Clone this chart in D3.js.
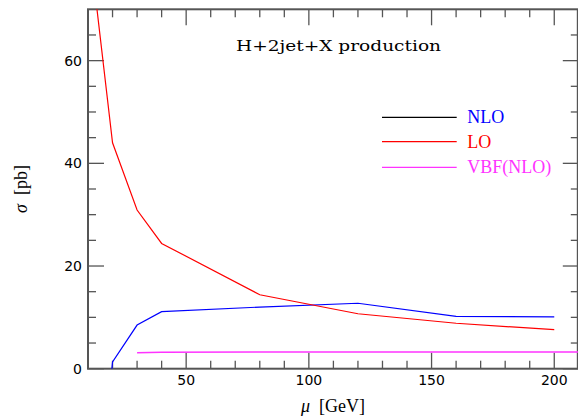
<!DOCTYPE html>
<html>
<head>
<meta charset="utf-8">
<script src="https://cdn.jsdelivr.net/npm/d3@7"></script>
<style>
  body { margin: 0; background: #fff; }
  svg { display: block; }
</style>
</head>
<body>
<svg id="chart" width="578" height="416"></svg>
<script>
// Data
var muLO = [10, 20, 30, 40, 80, 120, 160, 200];
var sigmaLO = [85, 44, 30.9, 24.4, 14.4, 10.7, 8.85, 7.6];

var muNLO = [10, 20, 30, 40, 80, 120, 160, 200];
var sigmaNLO = [-45, 1.3, 8.5, 11.1, 12.0, 12.75, 10.2, 10.1];

var muVBF = [30, 40, 80, 120, 160, 200, 250];
var sigmaVBF = [3.1, 3.2, 3.25, 3.25, 3.25, 3.25, 3.25];

var xMajor = [50, 100, 150, 200];
var yMajor = [0, 20, 40, 60];

var legendNames = ["NLO", "LO", "VBF(NLO)"];
var legendColors = ["#0000ff", "#ff0000", "#ff33ff"];

var svg = d3.select("#chart");

var x = d3.scaleLinear().domain([10, 210]).range([88, 578.8]);
var y = d3.scaleLinear().domain([0, 70]).range([368.7, 9.3]);

var axisColor = "#555";

// clip area for the curves
svg.append("clipPath").attr("id", "clip")
  .append("rect")
  .attr("x", x(10)).attr("y", y(70))
  .attr("width", x(210) - x(10)).attr("height", y(0) - y(70));

// minor / major ticks, drawn inside the frame on all four sides
var xMinor = d3.range(20, 210, 10);
var yMinor = d3.range(5, 70, 5);
var g = svg.append("g").attr("stroke", axisColor).attr("stroke-width", 1.3);

xMinor.forEach(function(v) {
  var len = xMajor.indexOf(v) >= 0 ? 16 : 8;
  g.append("line").attr("x1", x(v)).attr("x2", x(v)).attr("y1", y(0)).attr("y2", y(0) - len);
  g.append("line").attr("x1", x(v)).attr("x2", x(v)).attr("y1", y(70)).attr("y2", y(70) + len);
});
yMinor.concat([0]).forEach(function(v) {
  var len = yMajor.indexOf(v) >= 0 ? 16 : 8;
  g.append("line").attr("x1", x(10)).attr("x2", x(10) + len).attr("y1", y(v)).attr("y2", y(v));
  g.append("line").attr("x1", x(210)).attr("x2", x(210) - len).attr("y1", y(v)).attr("y2", y(v));
});

// frame
svg.append("rect")
  .attr("x", x(10)).attr("y", y(70))
  .attr("width", x(210) - x(10) - 1).attr("height", y(0) - y(70))
  .attr("fill", "none")
  .attr("stroke", axisColor)
  .attr("stroke-width", 2);

// tick labels
svg.append("g").selectAll("text")
  .data(yMajor)
  .enter().append("text")
  .attr("x", 82)
  .attr("y", function(d) { return y(d) + 5; })
  .attr("text-anchor", "end")
  .style("font-family", "DejaVu Sans")
  .style("font-size", "14px")
  .text(function(d) { return d; });

svg.append("g").selectAll("text")
  .data(xMajor)
  .enter().append("text")
  .attr("x", function(d) { return x(d); })
  .attr("y", 384.5)
  .attr("text-anchor", "middle")
  .style("font-family", "DejaVu Sans")
  .style("font-size", "14px")
  .text(function(d) { return d; });

// curves
var line = d3.line()
  .x(function(d) { return x(d[0]); })
  .y(function(d) { return y(d[1]); });

var curves = svg.append("g").attr("clip-path", "url(#clip)").attr("fill", "none");
curves.append("path")
  .attr("d", line(d3.zip(muNLO, sigmaNLO)))
  .attr("stroke", legendColors[0]).attr("stroke-width", 1.2);
curves.append("path")
  .attr("d", line(d3.zip(muLO, sigmaLO)))
  .attr("stroke", legendColors[1]).attr("stroke-width", 1.2);
curves.append("path")
  .attr("d", line(d3.zip(muVBF, sigmaVBF)))
  .attr("stroke", legendColors[2]).attr("stroke-width", 1.6);

// legend
var leg = svg.append("g").selectAll("g")
  .data(legendNames)
  .enter().append("g")
  .attr("transform", function(d, i) { return "translate(0," + [117.3, 141.7, 167.3][i] + ")"; });
leg.append("line")
  .attr("x1", 382).attr("x2", 456.7)
  .attr("stroke", function(d, i) { return i == 0 ? "#000" : legendColors[i]; })
  .attr("stroke-width", 1.2);
leg.append("text")
  .attr("x", 467.3).attr("y", 6)
  .attr("fill", function(d, i) { return legendColors[i]; })
  .style("font-family", "Liberation Serif")
  .style("font-size", "18px")
  .text(function(d) { return d; });

// title
svg.append("text")
  .attr("x", 236).attr("y", 50.5)
  .attr("textLength", 205).attr("lengthAdjust", "spacingAndGlyphs")
  .style("font-family", "DejaVu Serif")
  .style("font-size", "15px")
  .text("H+2jet+X production");

// axis titles
var xt = svg.append("text")
  .attr("x", 333).attr("y", 412)
  .attr("text-anchor", "middle")
  .style("font-family", "Liberation Serif")
  .style("font-size", "18px");
xt.append("tspan").style("font-style", "italic").text("μ");
xt.append("tspan").text("\u00a0\u00a0[GeV]");

var yt = svg.append("text")
  .attr("transform", "translate(27,189) rotate(-90)")
  .attr("text-anchor", "middle")
  .style("font-family", "Liberation Serif")
  .style("font-size", "18px");
yt.append("tspan").style("font-style", "italic").text("σ");
yt.append("tspan").text("\u00a0\u00a0[pb]");
</script>
</body>
</html>
